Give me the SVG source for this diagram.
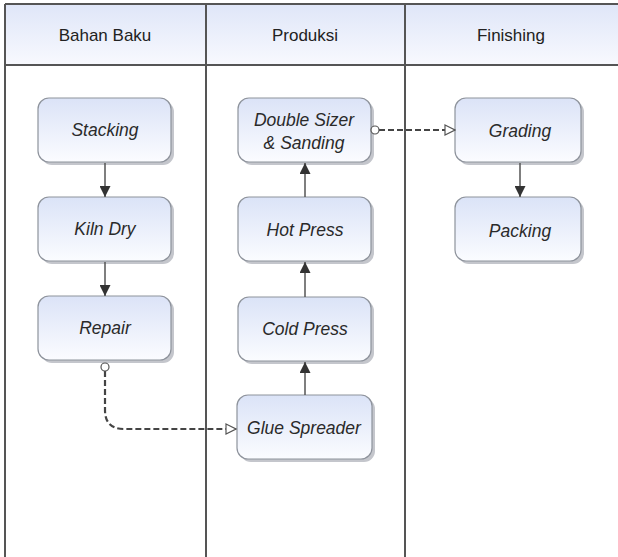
<svg xmlns="http://www.w3.org/2000/svg" width="618" height="557" viewBox="0 0 618 557">
  <defs>
    <linearGradient id="hdr" x1="0" y1="0" x2="0" y2="1">
      <stop offset="0" stop-color="#dfe6f8"/>
      <stop offset="1" stop-color="#f8f9fe"/>
    </linearGradient>
    <linearGradient id="box" x1="0" y1="0" x2="0" y2="1">
      <stop offset="0" stop-color="#dbe3f7"/>
      <stop offset="1" stop-color="#fbfcff"/>
    </linearGradient>
    <marker id="solid" viewBox="0 0 10 10" refX="10" refY="5" markerWidth="11" markerHeight="11" markerUnits="userSpaceOnUse" orient="auto">
      <path d="M0,0 L10,5 L0,10 z" fill="#333"/>
    </marker>
    <marker id="open" viewBox="0 0 12 12" refX="11" refY="6" markerWidth="12" markerHeight="12" markerUnits="userSpaceOnUse" orient="auto">
      <path d="M1,1 L11,6 L1,11 z" fill="#fff" stroke="#555" stroke-width="1.2"/>
    </marker>
  </defs>
  <style>
    .frame { stroke: #555; stroke-width: 2; fill: none; }
    .hdrtxt { font-family: "Liberation Sans", Arial, sans-serif; font-size: 17px; fill: #222; text-anchor: middle; }
    .shadow { fill: #c4c6cc; }
    .node rect.body { fill: url(#box); stroke: #8e939c; stroke-width: 1.2; }
    .node text { font-family: "Liberation Sans", Arial, sans-serif; font-size: 17.5px; font-style: italic; fill: #2a2a2a; text-anchor: middle; }
    .flow { stroke: #555; stroke-width: 1.5; fill: none; marker-end: url(#solid); }
    .msg { stroke: #444; stroke-width: 2.2; stroke-dasharray: 6 3; fill: none; marker-end: url(#open); }
    .port { fill: #fff; stroke: #555; stroke-width: 1.2; }
  </style>

  <rect x="0" y="0" width="618" height="557" fill="#fff"/>

  <!-- lane headers and frame -->
  <g id="lanes">
    <rect x="5" y="4" width="613" height="61" fill="url(#hdr)"/>
    <line class="frame" x1="5" y1="4" x2="618" y2="4"/>
    <line class="frame" x1="5" y1="65" x2="618" y2="65"/>
    <line class="frame" x1="5" y1="4" x2="5" y2="557"/>
    <line class="frame" x1="206" y1="4" x2="206" y2="557"/>
    <line class="frame" x1="405" y1="4" x2="405" y2="557"/>
    <text class="hdrtxt" x="105" y="41">Bahan Baku</text>
    <text class="hdrtxt" x="305" y="41">Produksi</text>
    <text class="hdrtxt" x="511" y="41">Finishing</text>
  </g>

  <!-- process nodes -->
  <g id="stacking" class="node">
    <rect class="shadow" x="41" y="101" width="133" height="64" rx="11"/>
    <rect class="body" x="38" y="98" width="133" height="64" rx="11"/>
    <text x="105" y="136">Stacking</text>
  </g>
  <g id="kiln-dry" class="node">
    <rect class="shadow" x="41" y="200" width="133" height="64" rx="11"/>
    <rect class="body" x="38" y="197" width="133" height="64" rx="11"/>
    <text x="105" y="235">Kiln Dry</text>
  </g>
  <g id="repair" class="node">
    <rect class="shadow" x="41" y="299" width="133" height="64" rx="11"/>
    <rect class="body" x="38" y="296" width="133" height="64" rx="11"/>
    <text x="105" y="334">Repair</text>
  </g>
  <g id="double-sizer" class="node">
    <rect class="shadow" x="241" y="101" width="133" height="64" rx="11"/>
    <rect class="body" x="238" y="98" width="133" height="64" rx="11"/>
    <text x="304" y="126">Double Sizer</text>
    <text x="304" y="149">&amp; Sanding</text>
  </g>
  <g id="hot-press" class="node">
    <rect class="shadow" x="241" y="200" width="133" height="64" rx="11"/>
    <rect class="body" x="238" y="197" width="133" height="64" rx="11"/>
    <text x="305" y="236">Hot Press</text>
  </g>
  <g id="cold-press" class="node">
    <rect class="shadow" x="241" y="300" width="133" height="64" rx="11"/>
    <rect class="body" x="238" y="297" width="133" height="64" rx="11"/>
    <text x="305" y="335">Cold Press</text>
  </g>
  <g id="glue-spreader" class="node">
    <rect class="shadow" x="240" y="398" width="135" height="64" rx="11"/>
    <rect class="body" x="237" y="395" width="135" height="64" rx="11"/>
    <text x="304" y="434">Glue Spreader</text>
  </g>
  <g id="grading" class="node">
    <rect class="shadow" x="458" y="101" width="126" height="64" rx="11"/>
    <rect class="body" x="455" y="98" width="126" height="64" rx="11"/>
    <text x="520" y="137">Grading</text>
  </g>
  <g id="packing" class="node">
    <rect class="shadow" x="458" y="200" width="126" height="64" rx="11"/>
    <rect class="body" x="455" y="197" width="126" height="64" rx="11"/>
    <text x="520" y="237">Packing</text>
  </g>

  <!-- connectors -->
  <g id="connectors">
    <line class="flow" x1="105" y1="163" x2="105" y2="197"/>
    <line class="flow" x1="105" y1="262" x2="105" y2="296"/>
    <line class="flow" x1="305" y1="395" x2="305" y2="362"/>
    <line class="flow" x1="305" y1="297" x2="305" y2="262"/>
    <line class="flow" x1="305" y1="197" x2="305" y2="163"/>
    <line class="flow" x1="520" y1="163" x2="520" y2="197"/>
    <path class="msg" d="M105,371 L105,410 Q105,429 124,429 L236,429"/>
    <circle class="port" cx="105" cy="367" r="4"/>
    <path class="msg" d="M379,130 L455,130"/>
    <circle class="port" cx="375" cy="130" r="4"/>
  </g>
</svg>
